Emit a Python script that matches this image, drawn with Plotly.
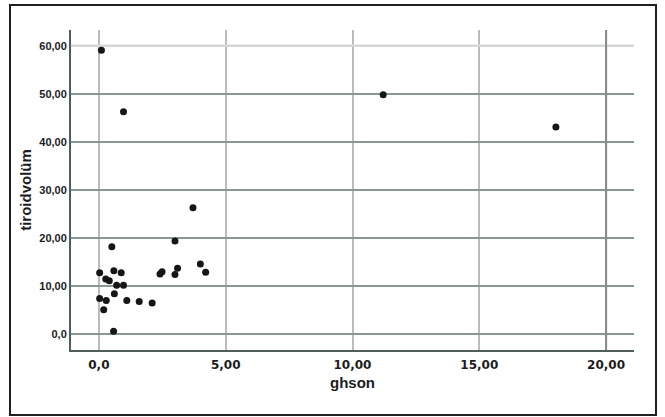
import plotly.graph_objects as go

ghson = [0.10, 0.97, 11.21, 18.02, 3.71, 3.00, 0.51, 0.03, 0.59, 0.88, 0.27, 0.41,
         0.70, 0.97, 0.61, 0.03, 0.29, 0.19, 1.10, 1.59, 2.10, 0.58, 2.41, 2.49,
         3.00, 3.10, 4.00, 4.21]
tiroidvolum = [59.1, 46.3, 49.8, 43.1, 26.3, 19.4, 18.2, 12.8, 13.2, 12.8, 11.5, 11.1,
               10.2, 10.2, 8.4, 7.4, 7.0, 5.1, 7.0, 6.8, 6.5, 0.6, 12.5, 13.0,
               12.4, 13.7, 14.6, 12.9]

x_ticks = [0, 5, 10, 15, 20]
x_ticklabels = ["0,0", "5,00", "10,00", "15,00", "20,00"]
y_ticks = [0, 10, 20, 30, 40, 50, 60]
y_ticklabels = ["0,0", "10,00", "20,00", "30,00", "40,00", "50,00", "60,00"]

fig = go.Figure()
fig.add_trace(go.Scatter(
    x=ghson, y=tiroidvolum, mode="markers",
    marker=dict(color="#161616", size=7, line=dict(width=0)),
    showlegend=False,
))

fig.update_layout(
    width=665, height=417,
    margin=dict(l=71, r=31, t=30, b=67),
    paper_bgcolor="white", plot_bgcolor="white",
    xaxis=dict(
        range=[-1.1, 21.1], tickvals=x_ticks, ticktext=x_ticklabels,
        showgrid=True, gridcolor="#b9bcbb", gridwidth=2,
        showline=True, linecolor="#4f5e5c", linewidth=2,
        zeroline=False, ticks="", ticklen=0, ticklabelstandoff=3,
        tickfont=dict(family="DejaVu Sans", size=12, color="#1c1c1c", weight="bold"),
        title=dict(text="ghson", font=dict(family="Liberation Sans", size=15, color="#1c1c1c", weight="bold"), standoff=6),
    ),
    yaxis=dict(
        range=[-3.3, 63.3], tickvals=y_ticks, ticktext=y_ticklabels,
        showgrid=True, gridcolor="#8a9795", gridwidth=2,
        showline=True, linecolor="#4f5e5c", linewidth=2,
        zeroline=False, ticks="", ticklen=0,
        tickfont=dict(family="Liberation Sans", size=11, color="#1c1c1c", weight="bold"),
        title=dict(text="tiroidvolüm", font=dict(family="Liberation Sans", size=15, color="#1c1c1c", weight="bold"), standoff=4),
    ),
    shapes=[
        dict(type="line", xref="x", yref="y", x0=-1.1, x1=21.1, y0=60, y1=60,
             line=dict(color="#d6d8d8", width=2.5), layer="between"),
        dict(type="line", xref="x", yref="y", x0=20, x1=20, y0=-3.3, y1=63.3,
             line=dict(color="#7e8b89", width=2), layer="between"),
    ],
)

# outer frame around the whole figure
fig.add_shape(type="rect", xref="paper", yref="paper",
              x0=(10 - 71) / 563, x1=(656 - 71) / 563,
              y0=(350 - 415) / 320, y1=(350 - 5) / 320,
              line=dict(color="#202020", width=2), fillcolor="rgba(0,0,0,0)")

fig.write_html(
    "out.html",
    config={"displayModeBar": False},
    post_script="document.body.style.margin='0';document.body.style.overflow='hidden';",
)
